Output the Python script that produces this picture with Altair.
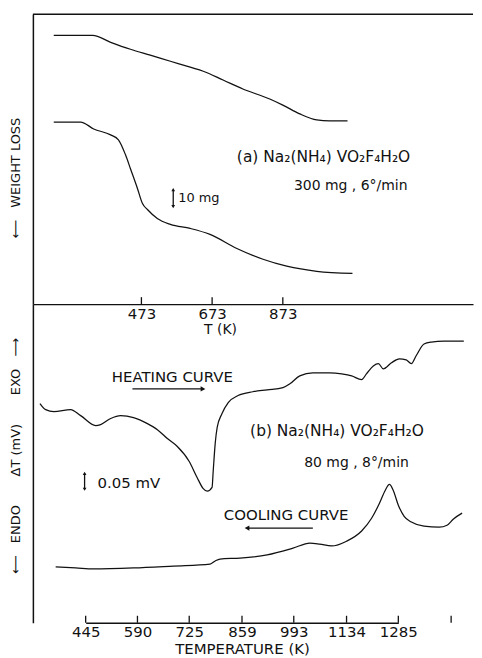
import altair as alt
import pandas as pd

# ---------------- data ----------------
# (a) TGA, x = T (K), y = relative weight (mg)
tga_upper_T = [225, 335, 386, 442, 498, 555, 611, 648, 704, 760, 836, 873, 921, 969, 1005, 1056]
tga_upper_w = [158.8, 158.8, 154.7, 150.6, 147.1, 143.5, 140.0, 137.6, 132.4, 127.1, 121.2, 117.6,
               112.4, 108.8, 108.2, 108.2]
tga_lower_T = [225, 301, 338, 386, 408, 428, 442, 462, 476, 490, 518, 555, 611, 667, 743, 817, 884, 969, 1070]
tga_lower_w = [107.6, 107.6, 103.5, 100.0, 97.1, 88.2, 80.0, 68.2, 59.4, 55.9, 50.6, 47.1, 44.7, 41.2,
               32.9, 26.5, 22.4, 19.4, 18.2]

# (b) DTA, x = temperature (K), y = delta T (mV, relative)
dta_heat_T = [317, 333, 356, 403, 431, 473, 487, 515, 543, 579, 616, 642, 668, 694, 725, 745, 760, 771,
              783, 786, 791, 796, 808, 824, 849, 887, 924, 965, 983, 1009, 1044, 1089, 1121, 1149, 1178,
              1192, 1212, 1227, 1241, 1265, 1288, 1308, 1323, 1337, 1360, 1381, 1418, 1476]
dta_heat_dT = [0.688, 0.669, 0.663, 0.669, 0.650, 0.619, 0.622, 0.641, 0.650, 0.644, 0.625, 0.606, 0.578,
               0.553, 0.506, 0.456, 0.422, 0.413, 0.425, 0.478, 0.563, 0.613, 0.656, 0.691, 0.713, 0.725,
               0.731, 0.738, 0.750, 0.775, 0.784, 0.784, 0.781, 0.775, 0.763, 0.781, 0.806, 0.813, 0.797,
               0.816, 0.828, 0.825, 0.813, 0.838, 0.875, 0.881, 0.884, 0.884]
dta_cool_T = [361, 417, 467, 579, 684, 778, 791, 803, 854, 924, 991, 1036, 1062, 1094, 1134, 1178, 1207,
              1230, 1247, 1259, 1270, 1285, 1302, 1323, 1360, 1404, 1427, 1445, 1471]
dta_cool_dT = [0.175, 0.172, 0.169, 0.172, 0.178, 0.184, 0.194, 0.200, 0.203, 0.213, 0.234, 0.250, 0.247,
               0.241, 0.256, 0.288, 0.328, 0.375, 0.416, 0.434, 0.416, 0.369, 0.334, 0.316, 0.303, 0.300,
               0.306, 0.325, 0.344]

top_ticks = [473, 673, 873]
bottom_ticks = [445, 590, 725, 859, 993, 1134, 1285]
bottom_unlabeled_ticks = [1439]

FONT = "DejaVu Sans"
INK = "#111111"
W = 442
H_TOP = 291
H_BOT = 320
NB = "\u00a0"  # non-collapsing space for the spread-out axis titles

# ---------------- panel (a) ----------------
tga = pd.concat([
    pd.DataFrame({"T": tga_upper_T, "Y": tga_upper_w, "curve": "upper"}),
    pd.DataFrame({"T": tga_lower_T, "Y": tga_lower_w, "curve": "lower"}),
])

y_top_scale = alt.Scale(domain=[0, 171.2], nice=False, zero=False)
x_top = alt.X("T:Q", scale=alt.Scale(domain=[166, 1411], nice=False, zero=False),
              axis=alt.Axis(values=top_ticks, ticks=False, domain=True, labelPadding=2,
                            labelOverlap=False, labelFlush=False, format="d",
                            title="T (K)", titleFontSize=14, titleX=188, titleY=26,
                            titleBaseline="middle"))
y_top = alt.Y("Y:Q", scale=y_top_scale,
              axis=alt.Axis(labels=False, ticks=False, grid=False, domain=True,
                            title="⟵" + NB * 3 + "WEIGHT" + NB + "LOSS", titlePadding=10, titleY=164))

tga_lines = alt.Chart(tga).mark_line(color=INK, strokeWidth=1.25, interpolate="monotone").encode(
    x=x_top, y=y_top, detail="curve:N")

top_tick_marks = alt.Chart(pd.DataFrame({"T": top_ticks})).mark_rule(color=INK, strokeWidth=1.3).encode(
    x=x_top, y=alt.value(H_TOP), y2=alt.value(H_TOP - 7))

top_border = alt.Chart(pd.DataFrame({"a": [0]})).mark_rule(color=INK, strokeWidth=1.5).encode(
    x=alt.value(0), x2=alt.value(W), y=alt.value(0))


def ttext(T, Y, label, align, size=14):
    return alt.Chart(pd.DataFrame({"T": [T], "Y": [Y], "label": [label]})).mark_text(
        font=FONT, fontSize=size, color=INK, align=align, baseline="middle").encode(
        x=x_top, y=y_top, text="label:N")


top_texts = [
    ttext(743, 87, "(a) Na₂(NH₄) VO₂F₄H₂O", "left", 15.5),
    ttext(1065, 70, "300 mg , 6°/min", "center", 14),
    ttext(577, 62.4, "10 mg", "left", 13),
]

# 10 mg scale bar
bar_a = pd.DataFrame({"T": [563], "Y": [57.6], "Y2": [67.6]})
top_bar = alt.Chart(bar_a).mark_rule(color=INK, strokeWidth=1.3).encode(x=x_top, y=y_top, y2="Y2:Q")
top_bar_up = alt.Chart(bar_a).mark_point(shape="triangle-up", filled=True, size=14, color=INK, opacity=1).encode(
    x=x_top, y=alt.Y("Y2:Q", scale=y_top_scale))
top_bar_dn = alt.Chart(bar_a).mark_point(shape="triangle-down", filled=True, size=14, color=INK, opacity=1).encode(
    x=x_top, y=y_top)

top_chart = alt.layer(
    tga_lines, top_tick_marks, top_border, *top_texts, top_bar, top_bar_up, top_bar_dn,
).properties(width=W, height=H_TOP)

# ---------------- panel (b) ----------------
dta = pd.concat([
    pd.DataFrame({"T": dta_heat_T, "Y": dta_heat_dT, "curve": "heating"}),
    pd.DataFrame({"T": dta_cool_T, "Y": dta_cool_dT, "curve": "cooling"}),
])

x_bot_scale = alt.Scale(domain=bottom_ticks, range=[53, 105, 157, 210, 262, 315, 367], nice=False, zero=False)
x_bot = alt.X("T:Q", scale=x_bot_scale,
              axis=alt.Axis(values=bottom_ticks, ticks=False, domain=True, labelPadding=2,
                            labelOverlap=False, labelFlush=False, format="d",
                            title="TEMPERATURE (K)", titleFontSize=15, titlePadding=2))
y_bot_scale = alt.Scale(domain=[0, 1.0], nice=False, zero=False)
bot_y_title = ("⟵" + NB * 3 + "ENDO" + NB * 7 + "ΔT" + NB + "(mV)" + NB * 7 + "EXO" + NB * 3 + "⟶")
y_bot = alt.Y("Y:Q", scale=y_bot_scale,
              axis=alt.Axis(labels=False, ticks=False, grid=False, domain=True,
                            title=bot_y_title, titlePadding=10, titleY=152))

dta_lines = alt.Chart(dta).mark_line(color=INK, strokeWidth=1.25, interpolate="monotone").encode(
    x=x_bot, y=y_bot, detail="curve:N")

bot_tick_marks = alt.Chart(pd.DataFrame({"T": bottom_ticks + bottom_unlabeled_ticks})).mark_rule(
    color=INK, strokeWidth=1.3).encode(x=x_bot, y=alt.value(H_BOT), y2=alt.value(H_BOT - 7))


def btext(T, Y, label, align, size=14):
    return alt.Chart(pd.DataFrame({"T": [T], "Y": [Y], "label": [label]})).mark_text(
        font=FONT, fontSize=size, color=INK, align=align, baseline="middle").encode(
        x=x_bot, y=y_bot, text="label:N")


bot_texts = [
    btext(681, 0.772, "HEATING CURVE", "center", 15),
    btext(880, 0.603, "(b) Na₂(NH₄) VO₂F₄H₂O", "left", 15.5),
    btext(1163, 0.500, "80 mg , 8°/min", "center", 14),
    btext(478, 0.4375, "0.05 mV", "left", 15),
    btext(973, 0.3375, "COOLING CURVE", "center", 15),
]

# direction arrows
arrows = pd.DataFrame({"T": [576, 1044], "T2": [760, 872], "Y": [0.734, 0.297]})
arrow_lines = alt.Chart(arrows).mark_rule(color=INK, strokeWidth=1.3).encode(x=x_bot, x2="T2:Q", y=y_bot)
head_r = alt.Chart(pd.DataFrame({"T": [760], "Y": [0.734]})).mark_point(
    shape="triangle-right", filled=True, size=30, color=INK, opacity=1).encode(x=x_bot, y=y_bot)
head_l = alt.Chart(pd.DataFrame({"T": [872], "Y": [0.297]})).mark_point(
    shape="triangle-left", filled=True, size=30, color=INK, opacity=1).encode(x=x_bot, y=y_bot)

# 0.05 mV scale bar
bar_b = pd.DataFrame({"T": [442], "Y": [0.419], "Y2": [0.469]})
bot_bar = alt.Chart(bar_b).mark_rule(color=INK, strokeWidth=1.3).encode(x=x_bot, y=y_bot, y2="Y2:Q")
bot_bar_up = alt.Chart(bar_b).mark_point(shape="triangle-up", filled=True, size=14, color=INK, opacity=1).encode(
    x=x_bot, y=alt.Y("Y2:Q", scale=y_bot_scale))
bot_bar_dn = alt.Chart(bar_b).mark_point(shape="triangle-down", filled=True, size=14, color=INK, opacity=1).encode(
    x=x_bot, y=y_bot)

bot_chart = alt.layer(
    dta_lines, bot_tick_marks, *bot_texts, arrow_lines, head_r, head_l, bot_bar, bot_bar_up, bot_bar_dn,
).properties(width=W, height=H_BOT)

chart = alt.vconcat(top_chart, bot_chart, spacing=0, bounds="flush").properties(
    padding={"left": 2, "top": 4, "right": 0, "bottom": 0}
).configure_view(stroke=None).configure_axis(
    domainColor=INK, domainWidth=1.5, labelFont=FONT, labelFontSize=15, labelColor=INK,
    titleFont=FONT, titleFontSize=13, titleFontWeight="normal", titleColor=INK, grid=False,
)

chart.save("out.html", embed_options={"renderer": "svg", "actions": False})
